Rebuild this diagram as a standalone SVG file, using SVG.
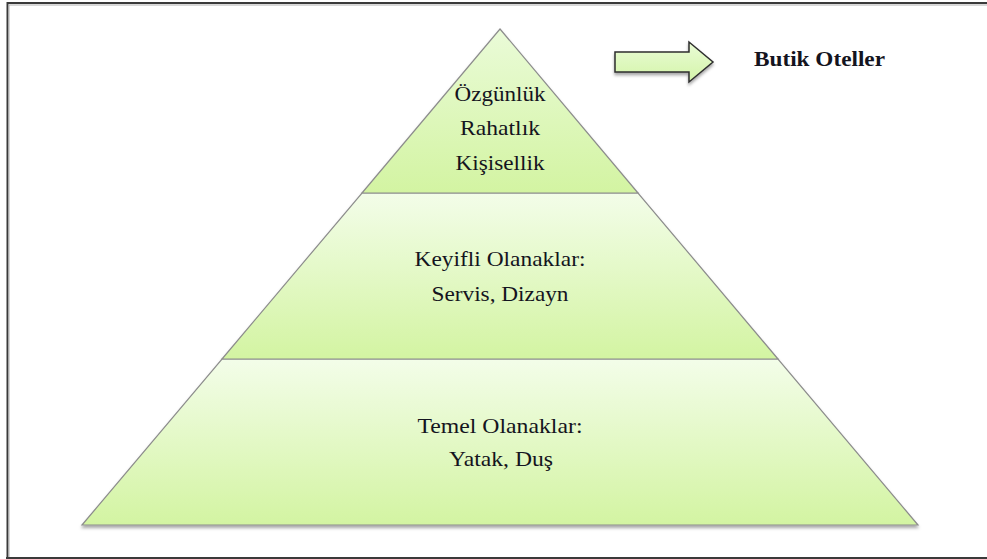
<svg xmlns="http://www.w3.org/2000/svg" width="987" height="559" viewBox="0 0 987 559">
  <defs>
    <linearGradient id="band" x1="0" y1="0" x2="0" y2="1">
      <stop offset="0" stop-color="#f3fde9"/>
      <stop offset="1" stop-color="#d3f4a2"/>
    </linearGradient>
    <linearGradient id="topband" x1="0" y1="0" x2="0" y2="1">
      <stop offset="0" stop-color="#eafbd8"/>
      <stop offset="1" stop-color="#d3f4a2"/>
    </linearGradient>
    <linearGradient id="arrowfill" x1="0" y1="0" x2="0" y2="1">
      <stop offset="0" stop-color="#eafcd6"/>
      <stop offset="1" stop-color="#d3f4a8"/>
    </linearGradient>
    <filter id="shadow" x="-10%" y="-10%" width="120%" height="130%">
      <feDropShadow dx="0" dy="2.5" stdDeviation="1.8" flood-color="#000" flood-opacity="0.35"/>
    </filter>
  </defs>
  <style>
    .band { stroke: #8c8c8c; stroke-width: 1.2; }
    text { font-family: 'Liberation Serif', 'DejaVu Serif', serif; }
    .lbl { font-size: 22px; fill: #141420; text-anchor: middle; }
    .bold { font-weight: bold; text-anchor: start; }
  </style>
  <rect x="0" y="0" width="987" height="559" fill="#ffffff"/>
  <g id="frame" fill="none">
    <path d="M7.5,558 L7.5,3 L990,3" stroke="#3a3a3a" stroke-width="2"/>
    <path d="M9,558 L9,5 L990,5" stroke="#b0b0b0" stroke-width="1"/>
    <line x1="6" y1="558" x2="990" y2="558" stroke="#3a3a3a" stroke-width="2"/>
  </g>
  <g id="pyramid" filter="url(#shadow)">
    <g id="band-bottom">
      <polygon class="band" points="222,359 778,359 918,525 82,525" fill="url(#band)"/>
    </g>
    <g id="band-middle">
      <polygon class="band" points="362,193 638,193 778,359 222,359" fill="url(#band)"/>
    </g>
    <g id="band-top">
      <polygon class="band" points="500,29 638,193 362,193" fill="url(#topband)"/>
    </g>
  </g>
  <g id="labels">
    <text class="lbl" x="500" y="101" textLength="91" lengthAdjust="spacingAndGlyphs">Özgünlük</text>
    <text class="lbl" x="500" y="135" textLength="80" lengthAdjust="spacingAndGlyphs">Rahatlık</text>
    <text class="lbl" x="500" y="170" textLength="89" lengthAdjust="spacingAndGlyphs">Kişisellik</text>
    <text class="lbl" x="500" y="266" textLength="171" lengthAdjust="spacingAndGlyphs">Keyifli Olanaklar:</text>
    <text class="lbl" x="500" y="301" textLength="137" lengthAdjust="spacingAndGlyphs">Servis, Dizayn</text>
    <text class="lbl" x="500" y="433" textLength="165" lengthAdjust="spacingAndGlyphs">Temel Olanaklar:</text>
    <text class="lbl" x="501" y="466" textLength="104" lengthAdjust="spacingAndGlyphs">Yatak, Duş</text>
  </g>
  <g id="connectors">
    <polygon id="arrow" points="615,52 689,52 689,42 713,62 689,82 689,72 615,72" fill="url(#arrowfill)" stroke="#2e2e2e" stroke-width="1.5" stroke-linejoin="miter" filter="url(#shadow)"/>
  </g>
  <g id="legend">
    <text class="lbl bold" x="754" y="66" textLength="131" lengthAdjust="spacingAndGlyphs">Butik Oteller</text>
  </g>
</svg>
